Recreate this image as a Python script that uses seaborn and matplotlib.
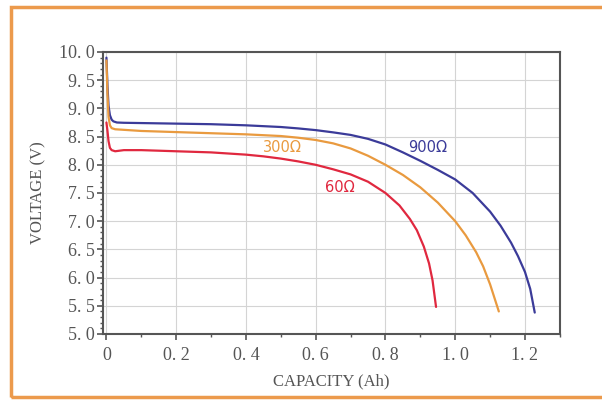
import matplotlib
matplotlib.use("Agg")
import matplotlib.pyplot as plt
import matplotlib.patches as patches
from matplotlib.ticker import MultipleLocator, FuncFormatter
import pandas as pd
import seaborn as sns

# discharge curves
x_900 = [0, 0.003, 0.006, 0.01, 0.015, 0.02, 0.03, 0.05, 0.1, 0.2, 0.3, 0.4, 0.5, 0.55, 0.6, 0.65, 0.7,
         0.75, 0.8, 0.85, 0.9, 0.95, 1.0, 1.05, 1.1, 1.13, 1.16, 1.18, 1.2, 1.215, 1.228]
v_900 = [9.9, 9.4, 9.05, 8.88, 8.8, 8.77, 8.75, 8.745, 8.74, 8.73, 8.72, 8.7, 8.67, 8.645, 8.615, 8.575, 8.53,
         8.46, 8.36, 8.22, 8.07, 7.91, 7.74, 7.5, 7.17, 6.92, 6.62, 6.38, 6.1, 5.8, 5.38]

x_300 = [0, 0.003, 0.006, 0.01, 0.015, 0.025, 0.05, 0.1, 0.2, 0.3, 0.4, 0.5, 0.55, 0.6, 0.65, 0.7,
         0.75, 0.8, 0.85, 0.9, 0.95, 1.0, 1.03, 1.06, 1.08, 1.1, 1.125]
v_300 = [9.85, 9.25, 8.85, 8.7, 8.65, 8.63, 8.62, 8.6, 8.58, 8.56, 8.54, 8.51, 8.48, 8.44, 8.38, 8.29,
         8.16, 8.0, 7.82, 7.6, 7.33, 7.0, 6.75, 6.45, 6.2, 5.88, 5.4]

x_60 = [0, 0.003, 0.006, 0.01, 0.015, 0.025, 0.05, 0.1, 0.2, 0.3, 0.4, 0.45, 0.5, 0.55, 0.6, 0.65, 0.7,
        0.75, 0.8, 0.84, 0.87, 0.89, 0.91, 0.925, 0.935, 0.945]
v_60 = [8.75, 8.6, 8.42, 8.3, 8.26, 8.24, 8.26, 8.26, 8.24, 8.22, 8.18, 8.15, 8.11, 8.06, 8.0, 7.92, 7.83,
        7.7, 7.5, 7.28, 7.04, 6.84, 6.55, 6.25, 5.95, 5.48]

series = ["900Ω", "300Ω", "60Ω"]
colors = ["#3b3b99", "#e99a3f", "#e0283f"]
label_pos = [(0.92, 8.3), (0.505, 8.3), (0.67, 7.6)]

df = pd.concat([
    pd.DataFrame({"capacity": x_900, "voltage": v_900, "load": "900Ω"}),
    pd.DataFrame({"capacity": x_300, "voltage": v_300, "load": "300Ω"}),
    pd.DataFrame({"capacity": x_60, "voltage": v_60, "load": "60Ω"}),
])

sns.set_style("white")
plt.rcParams["font.family"] = ["Liberation Serif", "DejaVu Serif"]

fig = plt.figure(figsize=(6.02, 4.0), dpi=100)
ax = fig.add_axes([0.171, 0.165, 0.759, 0.705])

sns.lineplot(data=df, x="capacity", y="voltage", hue="load", hue_order=series,
             palette=colors, sort=False, estimator=None, linewidth=1.6,
             legend=False, ax=ax)


def fmt(v, pos):
    if abs(v) < 1e-9:
        return "0"
    return ("%.1f" % v).replace(".", ". ")


ax.set_xlim(-0.01, 1.3)
ax.set_ylim(5.0, 10.0)
ax.xaxis.set_major_locator(MultipleLocator(0.2))
ax.xaxis.set_minor_locator(MultipleLocator(0.1))
ax.yaxis.set_major_locator(MultipleLocator(0.5))
ax.yaxis.set_minor_locator(MultipleLocator(0.1))
ax.xaxis.set_major_formatter(FuncFormatter(fmt))
ax.yaxis.set_major_formatter(FuncFormatter(lambda v, p: ("%.1f" % v).replace(".", ". ")))

ax.grid(True, which="major", color="#d4d4d4", linewidth=0.8)
for s in ax.spines.values():
    s.set_color("#555555")
    s.set_linewidth(1.5)
ax.tick_params(which="both", bottom=True, left=True, top=False, right=False)
ax.tick_params(which="major", direction="out", length=4, width=1.2, color="#555555",
               labelsize=13, labelcolor="#555555")
ax.tick_params(which="minor", direction="out", length=2.5, width=1.0, color="#555555")
ax.tick_params(axis="x", which="major", pad=5)
ax.tick_params(axis="y", which="major", pad=2)

ax.set_xlabel("CAPACITY (Ah)", fontsize=12, color="#555555", labelpad=7)
ax.set_ylabel("VOLTAGE (V)", fontsize=12, color="#555555", labelpad=9)

for name, c, (lx, ly) in zip(series, colors, label_pos):
    ax.text(lx, ly, name, color=c, fontsize=10.5, ha="center", va="center",
            family=["DejaVu Sans"])

# orange frame around the chart
fig.patches.append(patches.Rectangle((0.018, 0.008), 1.0, 0.975, transform=fig.transFigure,
                                     fill=False, edgecolor="#ec9a4c", linewidth=2.5))

fig.savefig("out.png", dpi=100)
